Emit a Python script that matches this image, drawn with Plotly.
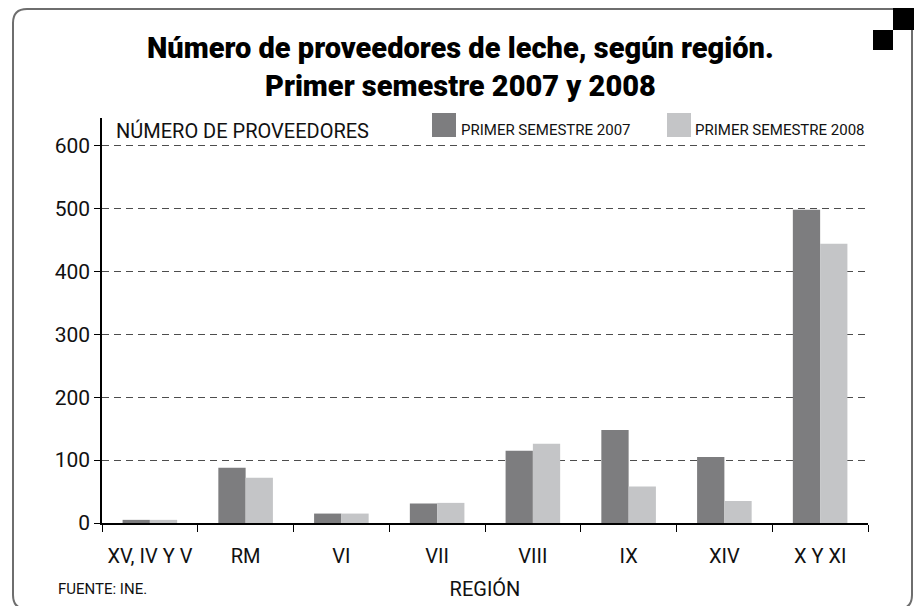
import plotly.graph_objects as go

# ---- data ----
regiones = ["XV, IV Y V", "RM", "VI", "VII", "VIII", "IX", "XIV", "X Y XI"]
serie_2007 = [5, 88, 15, 31, 115, 148, 105, 498]
serie_2008 = [5, 72, 15, 32, 126, 58, 35, 444]
nombre_2007 = "PRIMER SEMESTRE 2007"
nombre_2008 = "PRIMER SEMESTRE 2008"
y_ticks = [0, 100, 200, 300, 400, 500, 600]
titulo_1 = "Número de proveedores de leche, según región."
titulo_2 = "Primer semestre 2007 y 2008"
titulo_y = "NÚMERO DE PROVEEDORES"
titulo_x = "REGIÓN"
fuente = "FUENTE: INE."

COL_07 = "#7d7d7f"
COL_08 = "#c4c5c7"
FONT = "Roboto, DejaVu Sans Condensed, sans-serif"
TXT = "#111111"

# plot-area pixel geometry
FW, FH = 917, 606
L, R, T, B = 102, 868, 118, 523
W, H = R - L, B - T


def px(x):
    return (x - L) / W


def py(y):
    return (B - y) / H


fig = go.Figure()
fig.add_trace(go.Bar(x=regiones, y=serie_2007, name=nombre_2007,
                     marker=dict(color=COL_07, line=dict(width=0))))
fig.add_trace(go.Bar(x=regiones, y=serie_2008, name=nombre_2008,
                     marker=dict(color=COL_08, line=dict(width=0))))

shapes = []
# rounded frame
l, r_, t, b, rad = 13, 912, 9, 609, 14
pts = [
    f"M {px(l+rad)},{py(t)}",
    f"L {px(r_-rad)},{py(t)}",
    f"Q {px(r_)},{py(t)} {px(r_)},{py(t+rad)}",
    f"L {px(r_)},{py(b-rad)}",
    f"Q {px(r_)},{py(b)} {px(r_-rad)},{py(b)}",
    f"L {px(l+rad)},{py(b)}",
    f"Q {px(l)},{py(b)} {px(l)},{py(b-rad)}",
    f"L {px(l)},{py(t+rad)}",
    f"Q {px(l)},{py(t)} {px(l+rad)},{py(t)}",
    "Z",
]
shapes.append(dict(type="path", xref="paper", yref="paper", path=" ".join(pts),
                   line=dict(color="#6e6e6e", width=2), fillcolor="rgba(0,0,0,0)", layer="below"))
# black corner squares
shapes.append(dict(type="rect", xref="paper", yref="paper",
                   x0=px(893), x1=px(914), y0=py(30), y1=py(8),
                   fillcolor="black", line=dict(width=0)))
shapes.append(dict(type="rect", xref="paper", yref="paper",
                   x0=px(873), x1=px(893), y0=py(50), y1=py(30),
                   fillcolor="black", line=dict(width=0)))
# legend squares
for x0, col in [(432, COL_07), (667, COL_08)]:
    shapes.append(dict(type="rect", xref="paper", yref="paper",
                       x0=px(x0), x1=px(x0 + 24), y0=py(137), y1=py(113),
                       fillcolor=col, line=dict(width=0)))

annotations = [
    dict(text=titulo_1, x=px(460), y=py(48), xref="paper", yref="paper",
         xanchor="center", yanchor="middle", showarrow=False,
         font=dict(family=FONT, size=29, weight=900, color="black")),
    dict(text=titulo_2, x=px(460), y=py(86), xref="paper", yref="paper",
         xanchor="center", yanchor="middle", showarrow=False,
         font=dict(family=FONT, size=29, weight=900, color="black")),
    dict(text=titulo_y, x=px(114), y=py(131), xref="paper", yref="paper",
         xanchor="left", yanchor="middle", showarrow=False,
         font=dict(family=FONT, size=20, color=TXT)),
    dict(text=nombre_2007, x=px(459), y=py(130), xref="paper", yref="paper",
         xanchor="left", yanchor="middle", showarrow=False,
         font=dict(family=FONT, size=15, color=TXT)),
    dict(text=nombre_2008, x=px(693), y=py(130), xref="paper", yref="paper",
         xanchor="left", yanchor="middle", showarrow=False,
         font=dict(family=FONT, size=15, color=TXT)),
    dict(text=fuente, x=px(56), y=py(589), xref="paper", yref="paper",
         xanchor="left", yanchor="middle", showarrow=False,
         font=dict(family=FONT, size=15, color=TXT)),
]

fig.update_layout(
    width=FW, height=FH,
    margin=dict(l=L, r=FW - R, t=T, b=FH - B, pad=0),
    paper_bgcolor="white", plot_bgcolor="white",
    barmode="group", bargap=0.43, bargroupgap=0,
    showlegend=False,
    shapes=shapes, annotations=annotations,
    font=dict(family=FONT, color=TXT),
)
fig.update_xaxes(
    automargin=False, tickangle=0,
    showline=True, linecolor="black", linewidth=1.5,
    ticks="outside", tickson="boundaries", ticklen=7, tickcolor="black", tickwidth=1.2,
    tickfont=dict(family=FONT, size=20, color=TXT),
    ticklabelstandoff=14,
    title=dict(text=titulo_x, font=dict(family=FONT, size=20, color=TXT), standoff=15),
    showgrid=False, zeroline=False,
)
fig.update_yaxes(
    automargin=False,
    range=[0, 644], tickvals=y_ticks,
    showline=True, linecolor="black", linewidth=1.5,
    ticks="outside", ticklen=6, tickcolor="black", tickwidth=1.2,
    tickfont=dict(family=FONT, size=21, color=TXT),
    showgrid=True, gridcolor="#4d4d4d", gridwidth=1.2, griddash="7px,5px",
    zeroline=False,
)

fig.write_html("out.html", config={"displayModeBar": False},
               post_script="document.body.style.margin='0';")
